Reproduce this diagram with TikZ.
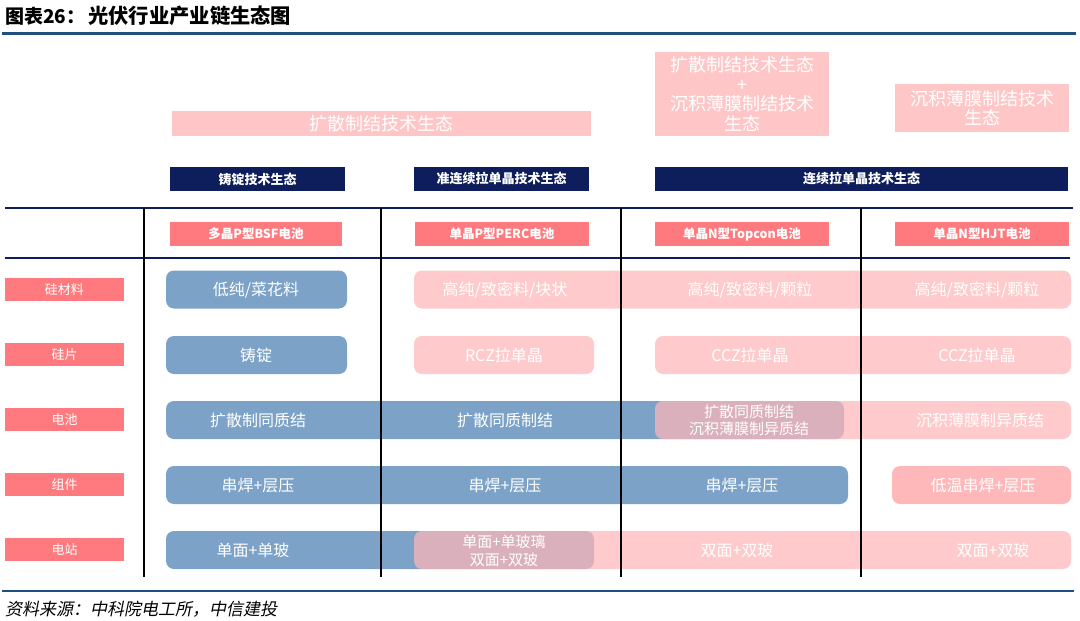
\documentclass[tikz,border=0pt]{standalone}
\usepackage{fontspec}
\setmainfont{Noto Sans CJK SC}
\newfontfamily\cjkslant{Noto Sans CJK SC}[FakeSlant=0.2]
\definecolor{navy}{RGB}{14,30,92}
\definecolor{rulecol}{RGB}{31,80,128}
\definecolor{coral}{RGB}{255,122,126}
\definecolor{cblue}{RGB}{124,163,199}
\definecolor{cpink}{RGB}{255,182,184}
\definecolor{cpinksolid}{RGB}{255,184,186}
\begin{document}
\begin{tikzpicture}[x=1pt,y=-1pt,
  rowbox/.style={rounded corners=8pt, minimum height=38pt, inner sep=0pt, draw=none},
  bluebox/.style={rowbox, fill=cblue},
  pinkbox/.style={rowbox, fill=cpink, fill opacity=0.72},
  txt/.style={text=white, inner sep=0pt, align=center, font=\fontsize{16}{18}\selectfont},
  lab/.style={fill=coral, minimum width=119pt, minimum height=23pt, inner sep=0pt, text=white, font=\fontsize{13}{15}\selectfont},
  hdr/.style={fill=coral, minimum height=24pt, inner sep=0pt, text=white, font=\bfseries\fontsize{12.5}{14}\selectfont},
  eco/.style={fill=navy, minimum height=24pt, inner sep=0pt, text=white, font=\bfseries\fontsize{13}{15}\selectfont},
  topbox/.style={fill=cpink, fill opacity=0.78, text opacity=1, text=white, inner sep=0pt, align=center, font=\fontsize{18}{19.5}\selectfont},
  vline/.style={line width=2.2pt, black},
  hline/.style={line width=1.8pt, navy}
]
\useasboundingbox (0,0) rectangle (1080,621);
\fill[white] (0,0) rectangle (1080,621);

% title
\node[anchor=west, inner sep=0pt, font=\bfseries\fontsize{19}{21}\selectfont] (title1) at (5,16) {图表26：};
\node[anchor=west, inner sep=0pt, font=\bfseries\fontsize{20.3}{22}\selectfont] (title2) at (88,16) {光伏行业产业链生态图};
\draw[rulecol, line width=3pt] (2,33) -- (1076,33);

% top ecosystems
\node[topbox, minimum width=419pt, minimum height=25pt] (t1) at (381.5,123.5) {扩散制结技术生态};
\node[topbox, minimum width=174pt, minimum height=84pt] (t2) at (742,94) {扩散制结技术生态\\+\\沉积薄膜制结技术\\生态};
\node[topbox, minimum width=174pt, minimum height=48pt] (t3) at (982,108) {沉积薄膜制结技术\\生态};

% navy ecosystems
\node[eco, minimum width=175pt] (e1) at (257.5,179) {铸锭技术生态};
\node[eco, minimum width=175pt] (e2) at (501.5,179) {准连续拉单晶技术生态};
\node[eco, minimum width=413pt] (e3) at (861.5,179) {连续拉单晶技术生态};

% headers
\node[hdr, minimum width=172pt] (h1) at (256,234) {多晶P型BSF电池};
\node[hdr, minimum width=174pt] (h2) at (502,234) {单晶P型PERC电池};
\node[hdr, minimum width=174pt] (h3) at (742,234) {单晶N型Topcon电池};
\node[hdr, minimum width=174pt] (h4) at (982,234) {单晶N型HJT电池};

% row labels
\node[lab] (l1) at (64.5,289.5) {硅材料};
\node[lab] (l2) at (64.5,354.5) {硅片};
\node[lab] (l3) at (64.5,419.5) {电池};
\node[lab] (l4) at (64.5,484.5) {组件};
\node[lab] (l5) at (64.5,549.5) {电站};

% row 1
\node[bluebox, minimum width=181pt] (b11) at (256.5,289.5) {};
\node[pinkbox, minimum width=657pt] (p12) at (742.5,289.5) {};
\node[txt] (x11) at (256,290) {低纯/菜花料};
\node[txt] (x12) at (505,290) {高纯/致密料/块状};
\node[txt] (x13) at (750,290) {高纯/致密料/颗粒};
\node[txt] (x14) at (977,290) {高纯/致密料/颗粒};

% row 2
\node[bluebox, minimum width=181pt] (b21) at (256.5,355) {};
\node[pinkbox, minimum width=180pt] (p22) at (504,355) {};
\node[pinkbox, minimum width=416pt] (p23) at (863,355) {};
\node[txt] (x21) at (256,355) {铸锭};
\node[txt] (x22) at (504,355) {RCZ拉单晶};
\node[txt] (x23) at (750,355) {CCZ拉单晶};
\node[txt] (x24) at (977,355) {CCZ拉单晶};

% row 3
\node[bluebox, minimum width=678pt] (b31) at (505,420) {};
\node[pinkbox, minimum width=416pt] (p33) at (863,420) {};
\node[txt] (x31) at (258,420) {扩散制同质结};
\node[txt] (x32) at (505,420) {扩散同质制结};
\node[txt, font=\fontsize{15}{17}\selectfont] (x33) at (749,420) {扩散同质制结\\沉积薄膜制异质结};
\node[txt] (x34) at (980,420) {沉积薄膜制异质结};

% row 4
\node[bluebox, minimum width=682pt] (b41) at (507,485) {};
\node[rowbox, fill=cpinksolid, minimum width=179pt] (p44) at (981.5,485) {};
\node[txt] (x41) at (258,485) {串焊+层压};
\node[txt] (x42) at (505,485) {串焊+层压};
\node[txt] (x43) at (742,485) {串焊+层压};
\node[txt] (x44) at (983,485) {低温串焊+层压};

% row 5
\node[bluebox, minimum width=428pt] (b51) at (380,550) {};
\node[pinkbox, minimum width=657pt] (p52) at (742.5,550) {};
\node[txt] (x51) at (253,550) {单面+单玻};
\node[txt, font=\fontsize{15}{18}\selectfont] (x52) at (504,551) {单面+单玻璃\\双面+双玻};
\node[txt] (x53) at (737,550) {双面+双玻};
\node[txt] (x54) at (993,550) {双面+双玻};

% table lines
\draw[hline] (5,208) -- (1073,208);
\draw[hline] (5,258) -- (1070,258);
\draw[vline] (144,208) -- (144,577);
\draw[vline] (381,208) -- (381,577);
\draw[vline] (621,208) -- (621,577);
\draw[vline] (861,208) -- (861,577);

% bottom rule and source
\draw[rulecol, line width=2.5pt] (2,591) -- (1074,591);
\node[anchor=west, inner sep=0pt, font=\cjkslant\fontsize{17}{19}\selectfont] (src) at (5,609) {资料来源：中科院电工所，中信建投};
\end{tikzpicture}
\end{document}
